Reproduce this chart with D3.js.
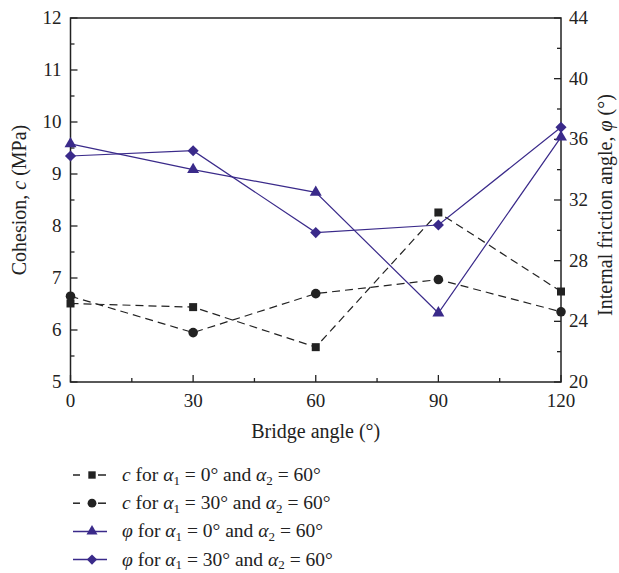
<!DOCTYPE html>
<html lang="en">
<head>
<meta charset="utf-8">
<title>Cohesion and internal friction angle vs bridge angle</title>
<script src="https://cdn.jsdelivr.net/npm/d3@7"></script>
<style>
  body { margin: 0; background: #fff; }
  svg { display: block; font-family: "Liberation Serif", "DejaVu Serif", serif; }
  .tick-label { font-size: 19px; fill: #222; }
  .axis-title { font-size: 20px; fill: #222; }
  .legend-text { font-size: 19.5px; fill: #222; }
</style>
</head>
<body>
<div id="chart"></div>
<script>
// bridge angles (x)
var angles = [0, 30, 60, 90, 120];
// cohesion c (MPa), left axis
var cAlpha0 = [6.51, 6.44, 5.67, 8.26, 6.74];
var cAlpha30 = [6.65, 5.95, 6.70, 6.97, 6.35];
// friction angle phi (deg), right axis
var phiAlpha0 = [35.7, 34.0, 32.5, 24.55, 36.15];
var phiAlpha30 = [34.9, 35.25, 29.85, 30.35, 36.8];

var xTicks = [0, 30, 60, 90, 120];
var leftTicks = [5, 6, 7, 8, 9, 10, 11, 12];
var rightTicks = [20, 24, 28, 32, 36, 40, 44];

var w = 619, h = 573;
var padL = 70.5, padR = 561, padT = 18, padB = 382;
var ink = "#222";
var purple = "#3a2a8a";

var svg = d3.select("#chart").append("svg")
  .attr("width", w).attr("height", h);

var x = d3.scaleLinear().domain([0, 120]).range([padL, padR]);
var yL = d3.scaleLinear().domain([5, 12]).range([padB, padT]);
var yR = d3.scaleLinear().domain([20, 44]).range([padB, padT]);

// frame
svg.append("rect")
  .attr("x", padL).attr("y", padT)
  .attr("width", padR - padL).attr("height", padB - padT)
  .attr("fill", "none").attr("stroke", ink).attr("stroke-width", 1.5);

// bottom axis, ticks inward
var xAxis = svg.append("g").attr("transform", "translate(0," + padB + ")");
xAxis.selectAll(".major").data(xTicks).enter().append("line")
  .attr("x1", function(d){ return x(d); }).attr("x2", function(d){ return x(d); })
  .attr("y1", 0).attr("y2", -7).attr("stroke", ink).attr("stroke-width", 1.3);
xAxis.selectAll(".minor").data(d3.range(15, 120, 30)).enter().append("line")
  .attr("x1", function(d){ return x(d); }).attr("x2", function(d){ return x(d); })
  .attr("y1", 0).attr("y2", -4).attr("stroke", ink).attr("stroke-width", 1.3);
xAxis.selectAll("text").data(xTicks).enter().append("text")
  .attr("class", "tick-label")
  .attr("x", function(d){ return x(d); }).attr("y", 25)
  .attr("text-anchor", "middle").text(function(d){ return d; });

// left axis
var yAxisL = svg.append("g").attr("transform", "translate(" + padL + ",0)");
yAxisL.selectAll(".major").data(leftTicks).enter().append("line")
  .attr("y1", function(d){ return yL(d); }).attr("y2", function(d){ return yL(d); })
  .attr("x1", 0).attr("x2", 7).attr("stroke", ink).attr("stroke-width", 1.3);
yAxisL.selectAll(".minor").data(d3.range(5.5, 12, 1)).enter().append("line")
  .attr("y1", function(d){ return yL(d); }).attr("y2", function(d){ return yL(d); })
  .attr("x1", 0).attr("x2", 4).attr("stroke", ink).attr("stroke-width", 1.3);
yAxisL.selectAll("text").data(leftTicks).enter().append("text")
  .attr("class", "tick-label")
  .attr("x", -9).attr("y", function(d){ return yL(d) + 6; })
  .attr("text-anchor", "end").text(function(d){ return d; });

// right axis
var yAxisR = svg.append("g").attr("transform", "translate(" + padR + ",0)");
yAxisR.selectAll(".major").data(rightTicks).enter().append("line")
  .attr("y1", function(d){ return yR(d); }).attr("y2", function(d){ return yR(d); })
  .attr("x1", 0).attr("x2", -7).attr("stroke", ink).attr("stroke-width", 1.3);
yAxisR.selectAll(".minor").data(d3.range(22, 44, 4)).enter().append("line")
  .attr("y1", function(d){ return yR(d); }).attr("y2", function(d){ return yR(d); })
  .attr("x1", 0).attr("x2", -4).attr("stroke", ink).attr("stroke-width", 1.3);
yAxisR.selectAll("text").data(rightTicks).enter().append("text")
  .attr("class", "tick-label")
  .attr("x", 8).attr("y", function(d){ return yR(d) + 6; })
  .attr("text-anchor", "start").text(function(d){ return d; });

// axis titles
svg.append("text").attr("class", "axis-title")
  .attr("x", (padL + padR) / 2).attr("y", 438)
  .attr("text-anchor", "middle").text("Bridge angle (°)");

var lt = svg.append("text").attr("class", "axis-title")
  .attr("transform", "translate(26," + ((padT + padB) / 2) + ") rotate(-90)")
  .attr("text-anchor", "middle");
lt.append("tspan").text("Cohesion, ");
lt.append("tspan").attr("font-style", "italic").text("c");
lt.append("tspan").text(" (MPa)");

var rt = svg.append("text").attr("class", "axis-title")
  .attr("transform", "translate(612," + ((padT + padB) / 2 + 5) + ") rotate(-90)")
  .attr("text-anchor", "middle");
rt.append("tspan").text("Internal friction angle, ");
rt.append("tspan").attr("font-style", "italic").text("φ");
rt.append("tspan").text(" (°)");

// series
var series = [
  { sym: "c", a1: "0", vals: cAlpha0, scale: yL, color: ink, dash: "8,5", marker: d3.symbolSquare, size: 64, rot: 0 },
  { sym: "c", a1: "30", vals: cAlpha30, scale: yL, color: ink, dash: "8,5", marker: d3.symbolCircle, size: 72, rot: 0 },
  { sym: "φ", a1: "0", vals: phiAlpha0, scale: yR, color: purple, dash: null, marker: d3.symbolTriangle, size: 62, rot: 0 },
  { sym: "φ", a1: "30", vals: phiAlpha30, scale: yR, color: purple, dash: null, marker: d3.symbolSquare, size: 62, rot: 45 }
];

series.forEach(function(s){
  var pts = angles.map(function(a, i){ return [a, s.vals[i]]; });
  var line = d3.line()
    .x(function(d){ return x(d[0]); })
    .y(function(d){ return s.scale(d[1]); });
  svg.append("path").datum(pts)
    .attr("d", line).attr("fill", "none")
    .attr("stroke", s.color).attr("stroke-width", 1.2)
    .attr("stroke-dasharray", s.dash);
  svg.selectAll(null).data(pts).enter().append("path")
    .attr("d", d3.symbol().type(s.marker).size(s.size))
    .attr("transform", function(d){
      return "translate(" + x(d[0]) + "," + s.scale(d[1]) + ") rotate(" + s.rot + ")";
    })
    .attr("fill", s.color);
});

// legend
var legend = svg.append("g");
series.forEach(function(s, i){
  var yy = 475 + i * 28.2;
  if (s.dash) {
    legend.append("line").attr("x1", 73).attr("x2", 80).attr("y1", yy).attr("y2", yy)
      .attr("stroke", s.color).attr("stroke-width", 1.5);
    legend.append("line").attr("x1", 98).attr("x2", 106).attr("y1", yy).attr("y2", yy)
      .attr("stroke", s.color).attr("stroke-width", 1.5);
  } else {
    legend.append("line").attr("x1", 73).attr("x2", 107).attr("y1", yy).attr("y2", yy)
      .attr("stroke", s.color).attr("stroke-width", 1.5);
  }
  legend.append("path")
    .attr("d", d3.symbol().type(s.marker).size(s.size * 0.85))
    .attr("transform", "translate(92," + yy + ") rotate(" + s.rot + ")")
    .attr("fill", s.color);

  var t = legend.append("text").attr("class", "legend-text")
    .attr("x", 122).attr("y", yy + 6);
  t.append("tspan").attr("font-style", "italic").text(s.sym);
  t.append("tspan").text(" for ");
  t.append("tspan").attr("font-style", "italic").text("α");
  t.append("tspan").attr("font-size", "13px").attr("dy", 3.5).text("1");
  t.append("tspan").attr("dy", -3.5).text(" = " + s.a1 + "° and ");
  t.append("tspan").attr("font-style", "italic").text("α");
  t.append("tspan").attr("font-size", "13px").attr("dy", 3.5).text("2");
  t.append("tspan").attr("dy", -3.5).text(" = 60°");
});
</script>
</body>
</html>
